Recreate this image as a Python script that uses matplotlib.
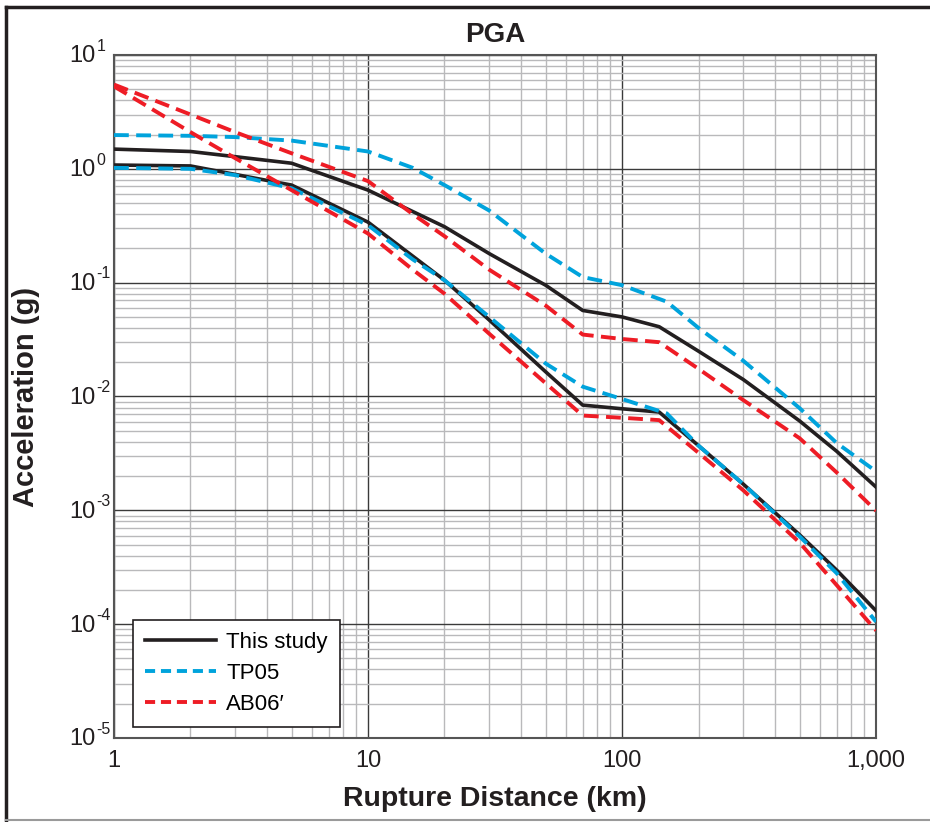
import matplotlib
matplotlib.use("Agg")
import matplotlib.pyplot as plt
from matplotlib.ticker import FixedLocator, LogLocator, NullFormatter
from matplotlib.lines import Line2D

plt.rcParams['font.family'] = ['Liberation Sans', 'DejaVu Sans']

# distances (km)
dist = [1, 2, 5, 10, 20, 30, 50, 70, 100, 140, 200, 300, 500, 700, 1000]

# This study (upper / lower)
study_hi = [1.49, 1.42, 1.12, 0.65, 0.31, 0.18, 0.095, 0.057, 0.050, 0.041, 0.025, 0.0141, 0.0061, 0.0033, 0.0016]
study_lo = [1.08, 1.06, 0.72, 0.34, 0.105, 0.047, 0.0165, 0.0084, 0.0078, 0.0073, 0.0037, 0.0017, 6.1e-4, 2.98e-4, 1.31e-4]

# TP05
tp_dist = [1, 2, 3, 5, 10, 15, 20, 30, 50, 70, 100, 150, 200, 300, 500, 700, 1000]
tp_hi = [1.98, 1.95, 1.9, 1.77, 1.42, 1.02, 0.72, 0.43, 0.18, 0.112, 0.095, 0.068, 0.040, 0.0206, 0.0079, 0.0039, 0.0022]
tp_lo = [1.02, 1.0, 0.88, 0.675, 0.32, 0.16, 0.105, 0.05, 0.0195, 0.0122, 0.0095, 0.0071, 0.0037, 0.0017, 5.9e-4, 2.8e-4, 1.05e-4]

# AB06'
ab_dist = [1, 2, 3, 5, 10, 15, 20, 30, 50, 70, 100, 140, 200, 300, 500, 700, 1000]
ab_hi = [5.5, 3.0, 2.1, 1.37, 0.78, 0.40, 0.256, 0.13, 0.063, 0.035, 0.032, 0.030, 0.0175, 0.0093, 0.0043, 0.00215, 0.00099]
ab_lo = [5.3, 2.1, 1.24, 0.65, 0.27, 0.13, 0.08, 0.0356, 0.0131, 0.0068, 0.0065, 0.0062, 0.0032, 0.0015, 5.2e-4, 2.2e-4, 8.8e-5]

x_ticks = [1, 10, 100, 1000]
x_labels = ['1', '10', '100', '1,000']
y_ticks = [1e-5, 1e-4, 1e-3, 1e-2, 1e-1, 1, 10]
y_exps = ['-5', '-4', '-3', '-2', '-1', '0', '1']

black = '#231f20'
blue = '#00a3dc'
red = '#ee1c25'

fig = plt.figure(figsize=(9.3, 8.22), dpi=100)
ax = fig.add_axes([0.1226, 0.1022, 0.8194, 0.8309])

dash = (3.8, 1.9)
ax.plot(dist, study_hi, color=black, lw=2.6, zorder=5)
ax.plot(dist, study_lo, color=black, lw=2.6, zorder=5)
ax.plot(tp_dist, tp_hi, color=blue, lw=2.8, dashes=dash, zorder=6)
ax.plot(tp_dist, tp_lo, color=blue, lw=2.8, dashes=dash, zorder=6)
ax.plot(ab_dist, ab_hi, color=red, lw=2.8, dashes=dash, zorder=7)
ax.plot(ab_dist, ab_lo, color=red, lw=2.8, dashes=dash, zorder=7)

ax.set_xscale('log')
ax.set_yscale('log')
ax.set_xlim(1, 1000)
ax.set_ylim(1e-5, 10)

ax.xaxis.set_major_locator(FixedLocator(x_ticks))
ax.set_xticklabels(x_labels)
ax.yaxis.set_major_locator(FixedLocator(y_ticks))
ax.set_yticklabels([''] * len(y_ticks))
# y tick labels as "10" with raised exponent (plain hyphen, like the original)
for v, e in zip(y_ticks, y_exps):
    t = ax.annotate('10', xy=(0, v), xycoords=('axes fraction', 'data'),
                    xytext=(-13, -1), textcoords='offset points',
                    ha='right', va='center', fontsize=17, color=black)
    ax.annotate(e, xy=(1, 0.62), xycoords=t, xytext=(0.5, 0),
                textcoords='offset points', ha='left', va='bottom',
                fontsize=11.5, color=black)
ax.xaxis.set_minor_locator(LogLocator(base=10, subs=range(2, 10)))
ax.yaxis.set_minor_locator(LogLocator(base=10, subs=range(2, 10)))
ax.xaxis.set_minor_formatter(NullFormatter())
ax.yaxis.set_minor_formatter(NullFormatter())

ax.grid(True, which='minor', color='#b9b9bb', lw=1.0)
ax.grid(True, which='major', color='#3a3a3a', lw=1.0)
ax.set_axisbelow(True)
ax.tick_params(which='both', length=0, labelsize=17, colors=black)
ax.tick_params(axis='x', pad=9)
for s in ax.spines.values():
    s.set_color('#555555')
    s.set_linewidth(1.5)

ax.set_title('PGA', fontsize=20, fontweight='bold', pad=9, color=black)
ax.set_xlabel('Rupture Distance (km)', fontsize=20.5, fontweight='bold', labelpad=10, color=black)
ax.set_ylabel('Acceleration (g)', fontsize=21, fontweight='bold', labelpad=50, color=black)

handles = [Line2D([], [], color=black, lw=2.6),
           Line2D([], [], color=blue, lw=2.8, dashes=(2.6, 1.5)),
           Line2D([], [], color=red, lw=2.8, dashes=(2.6, 1.5))]
leg = ax.legend(handles, ['This study', 'TP05', 'AB06\u2032'], loc='lower left',
                bbox_to_anchor=(0.025, 0.016), fontsize=16, frameon=True, fancybox=False,
                edgecolor=black, framealpha=1, handlelength=3.2, borderpad=0.55,
                labelspacing=0.45, handletextpad=0.45, borderaxespad=0)
leg.get_frame().set_linewidth(1.2)
leg.set_zorder(10)

# figure frame
fig.add_artist(Line2D([0.006, 0.006], [0.0025, 0.991], color=black, lw=2.5, transform=fig.transFigure))
fig.add_artist(Line2D([0.006, 1.0], [0.991, 0.991], color=black, lw=2.5, transform=fig.transFigure))
fig.add_artist(Line2D([0.006, 1.0], [0.0025, 0.0025], color='#9a9a9a', lw=1.5, transform=fig.transFigure))

fig.savefig('out.png', dpi=100)
